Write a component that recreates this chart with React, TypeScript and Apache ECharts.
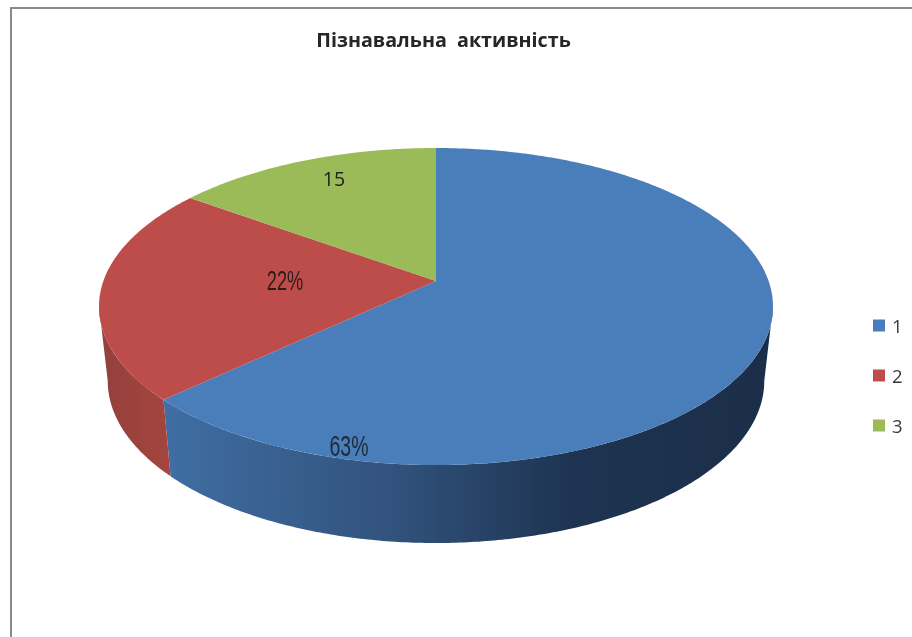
import React, { useEffect, useRef } from "react";
import * as echarts from "echarts";

const TITLE = "Пізнавальна  активність";
const categories = ["1", "2", "3"];
const values = [63, 22, 15];
const sliceLabels = ["63%", "22%", "15"];
const faceColors = ["#4a7ebb", "#bd4d4a", "#9abb58"];

const W = 912;
const H = 637;
// Projection of the tilted disc: a circle through a perspective map.
const CX = 436;
const TOP_Y = 281;
const TOP_A = 332.6;
const TOP_B = 154.4;
const K = 0.161;
const RIM_Y = 354.7;
const RIM_A = 324;
const RIM_B = 158;
const RIGHT_ANGLE = Math.acos(-K);
const LEFT_ANGLE = 2 * Math.PI - RIGHT_ANGLE;

const labelLayout = [
  { x: 349, y: 445, size: 30, scaleX: 0.65, family: "Liberation Sans", fill: "#1f2a38" },
  { x: 285, y: 281, size: 28, scaleX: 0.65, family: "Liberation Sans", fill: "#2b1c1c" },
  { x: 334, y: 178, size: 19.5, scaleX: 1, family: "Open Sans", fill: "#222222" },
];

const total = values.reduce((a, b) => a + b, 0);
const startShare = values.map((_, i) => values.slice(0, i).reduce((a, b) => a + b, 0) / total);

function topPoint(t: number) {
  const d = 1 + K * Math.cos(t);
  return [CX + (TOP_A * Math.sin(t)) / d, TOP_Y - (TOP_B * Math.cos(t)) / d];
}
function rimPoint(t: number) {
  const d = 1 + K * Math.cos(t);
  return [CX + (RIM_A * Math.sin(t)) / d, RIM_Y - (RIM_B * Math.cos(t)) / d];
}
function arc(fn: (t: number) => number[], a: number, b: number) {
  const n = Math.max(2, Math.ceil(Math.abs(b - a) / 0.01));
  const out: number[][] = [];
  for (let i = 0; i <= n; i++) out.push(fn(a + ((b - a) * i) / n));
  return out;
}

function wallFill(index: number) {
  if (index === 0) {
    return new echarts.graphic.LinearGradient(0, 0, 1, 0, [
      { offset: 0, color: "#406ea3" },
      { offset: 0.38, color: "#31527c" },
      { offset: 0.66, color: "#1e3452" },
      { offset: 1, color: "#1b2e49" },
    ]);
  }
  return new echarts.graphic.LinearGradient(0, 0, 1, 0, [
    { offset: 0, color: "#93403c" },
    { offset: 1, color: "#a5453f" },
  ]);
}

function makeRenderItem(index: number) {
  return (_params: any, api: any) => {
    const share = api.value(0) / total;
    const a = startShare[index] * 2 * Math.PI;
    const b = a + share * 2 * Math.PI;
    const children: any[] = [];
    const wa = Math.max(a, RIGHT_ANGLE);
    const wb = Math.min(b, LEFT_ANGLE);
    if (wb > wa) {
      children.push({
        type: "polygon",
        shape: { points: [...arc(topPoint, wa, wb), ...arc(rimPoint, wb, wa)] },
        style: { fill: wallFill(index) },
      });
    }
    children.push({
      type: "polygon",
      shape: { points: [[CX, TOP_Y], ...arc(topPoint, a, b)] },
      style: { fill: faceColors[index] },
    });
    const l = labelLayout[index];
    children.push({
      type: "text",
      x: l.x,
      y: l.y,
      scaleX: l.scaleX,
      style: {
        text: sliceLabels[index],
        fontFamily: l.family,
        fontSize: l.size,
        fill: l.fill,
        textAlign: "center",
        textVerticalAlign: "middle",
      },
    });
    return { type: "group", children };
  };
}

export default function App() {
  const ref = useRef<HTMLDivElement>(null);
  useEffect(() => {
    const chart = echarts.init(ref.current!, null, { renderer: "svg" });
    chart.setOption({
      animation: false,
      backgroundColor: "#ffffff",
      title: {
        text: TITLE,
        left: 438.5,
        top: 24,
        textAlign: "center",
        textStyle: { fontFamily: "Open Sans", fontWeight: "bold", fontSize: 19.7, color: "#262626" },
      },
      legend: {
        data: categories,
        orient: "vertical",
        left: 868,
        top: 311,
        itemWidth: 12,
        itemHeight: 12,
        itemGap: 31,
        icon: "rect",
        textStyle: { fontFamily: "Open Sans", fontSize: 18.5, color: "#3a3a3a", padding: [0, 0, 0, 2] },
      },
      graphic: [
        {
          type: "rect",
          shape: { x: 11, y: 8, width: W, height: H },
          style: { fill: "none", stroke: "#8a8a8a", lineWidth: 2 },
          silent: true,
        },
      ],
      series: categories.map((name, i) => ({
        type: "custom",
        name,
        coordinateSystem: "none",
        renderItem: makeRenderItem(i),
        itemStyle: { color: faceColors[i] },
        data: [[values[i]]],
        silent: true,
      })),
    });
    return () => chart.dispose();
  }, []);
  return (
    <div
      ref={ref}
      style={{ position: "absolute", left: 0, top: 0, width: W, height: H, filter: "blur(0.5px)" }}
    />
  );
}
